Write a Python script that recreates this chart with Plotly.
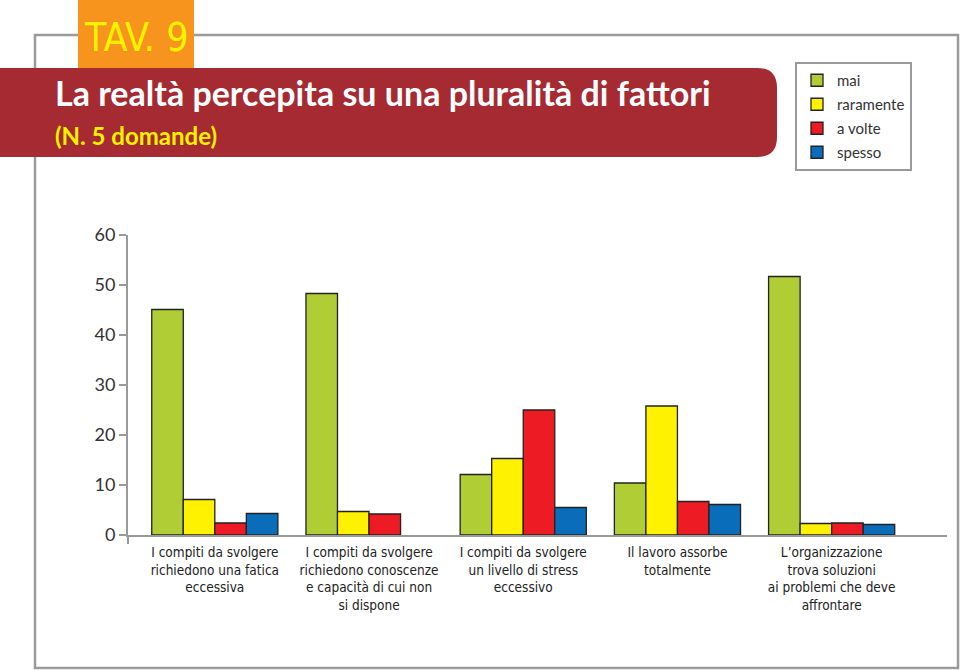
import plotly.graph_objects as go

categories = [
    "I compiti da svolgere<br>richiedono una fatica<br>eccessiva",
    "I compiti da svolgere<br>richiedono conoscenze<br>e capacità di cui non<br>si dispone",
    "I compiti da svolgere<br>un livello di stress<br>eccessivo",
    "Il lavoro assorbe<br>totalmente",
    "L’organizzazione<br>trova soluzioni<br>ai problemi che deve<br>affrontare",
]
series_names = ["mai", "raramente", "a volte", "spesso"]
mai = [45.1, 48.3, 12.1, 10.4, 51.7]
raramente = [7.1, 4.7, 15.3, 25.8, 2.3]
a_volte = [2.4, 4.2, 25.0, 6.7, 2.4]
spesso = [4.3, None, 5.5, 6.1, 2.1]
y_ticks = [0, 10, 20, 30, 40, 50, 60]

colors = ["#B0CD35", "#FFF200", "#ED1C24", "#0A6DBA"]

NARROW = "DejaVu Sans Condensed, Liberation Sans Narrow, Roboto Condensed, sans-serif"

# plot-area geometry in pixels
L, R, T, B = 128, 13, 235, 135
W, H = 960, 670
PW, PH = W - L - R, H - T - B


def X(px):
    return (px - L) / PW


def Y(py):
    return (H - B - py) / PH


fig = go.Figure()
for name, vals, col in zip(series_names, [mai, raramente, a_volte, spesso], colors):
    fig.add_trace(go.Bar(
        x=categories, y=vals, name=name, legendgroup=name,
        marker=dict(color=col, line=dict(color="#222222", width=1.3)),
    ))

shapes = []
# outer frame
shapes.append(dict(type="rect", xref="paper", yref="paper",
                   x0=X(35), x1=X(958), y0=Y(35), y1=Y(668),
                   line=dict(color="#9A9A9A", width=2.5), layer="below"))
# orange tab
shapes.append(dict(type="rect", xref="paper", yref="paper",
                   x0=X(78), x1=X(194), y0=Y(0), y1=Y(68),
                   fillcolor="#F7941D", line=dict(width=0), layer="below"))
# red banner with rounded right end
r = 20
x_end, y_top, y_bot = 777, 68, 157
path = (f"M {X(0)},{Y(y_top)} L {X(x_end - r)},{Y(y_top)} "
        f"Q {X(x_end)},{Y(y_top)} {X(x_end)},{Y(y_top + r)} "
        f"L {X(x_end)},{Y(y_bot - r)} "
        f"Q {X(x_end)},{Y(y_bot)} {X(x_end - r)},{Y(y_bot)} "
        f"L {X(0)},{Y(y_bot)} Z")
shapes.append(dict(type="path", xref="paper", yref="paper", path=path,
                   fillcolor="#A52A32", line=dict(width=0), layer="below"))
# small extension of the y axis below zero
shapes.append(dict(type="line", xref="paper", yref="paper",
                   x0=0, x1=0, y0=Y(535), y1=Y(544),
                   line=dict(color="#9A9A9A", width=2)))

annotations = [
    dict(text="TAV. 9", xref="paper", yref="paper", x=X(136), y=Y(37),
         xanchor="center", yanchor="middle", showarrow=False,
         font=dict(family=NARROW, size=39, color="#FFF200")),
    dict(text="<b>La realtà percepita su una pluralità di fattori</b>",
         xref="paper", yref="paper", x=X(53), y=Y(92),
         xanchor="left", yanchor="middle", showarrow=False,
         font=dict(family="Lato, sans-serif", size=34, color="#FFFFFF")),
    dict(text="<b>(N. 5 domande)</b>",
         xref="paper", yref="paper", x=X(53), y=Y(135),
         xanchor="left", yanchor="middle", showarrow=False,
         font=dict(family="Lato, sans-serif", size=24, color="#FFF200")),
]

fig.update_layout(
    width=W, height=H,
    margin=dict(l=L, r=R, t=T, b=B, autoexpand=False),
    paper_bgcolor="white", plot_bgcolor="white",
    barmode="group", bargap=0.182, bargroupgap=0,
    font=dict(family="Lato, sans-serif", color="#333333"),
    shapes=shapes, annotations=annotations,
    showlegend=True,
    legend=dict(xref="container", yref="container",
                x=795 / W, y=1 - 62 / H, xanchor="left", yanchor="top",
                bordercolor="#9A9A9A", borderwidth=2, bgcolor="white",
                font=dict(size=15, color="#333333"),
                traceorder="grouped", tracegroupgap=1.5),
    xaxis=dict(range=[-0.563, 4.748], showline=True, linecolor="#9A9A9A",
               linewidth=2, ticks="", showgrid=False, zeroline=False,
               tickangle=0, automargin=False, ticklabelstandoff=4,
               tickfont=dict(family=NARROW, size=13.5, color="#222222")),
    yaxis=dict(range=[0, 60], tickvals=y_ticks, showline=True, linecolor="#9A9A9A",
               linewidth=2, ticks="outside", ticklen=7, tickwidth=2,
               tickcolor="#9A9A9A", showgrid=False, zeroline=False,
               automargin=False,
               tickfont=dict(size=18, color="#333333")),
)

fig.write_html("out.html")
